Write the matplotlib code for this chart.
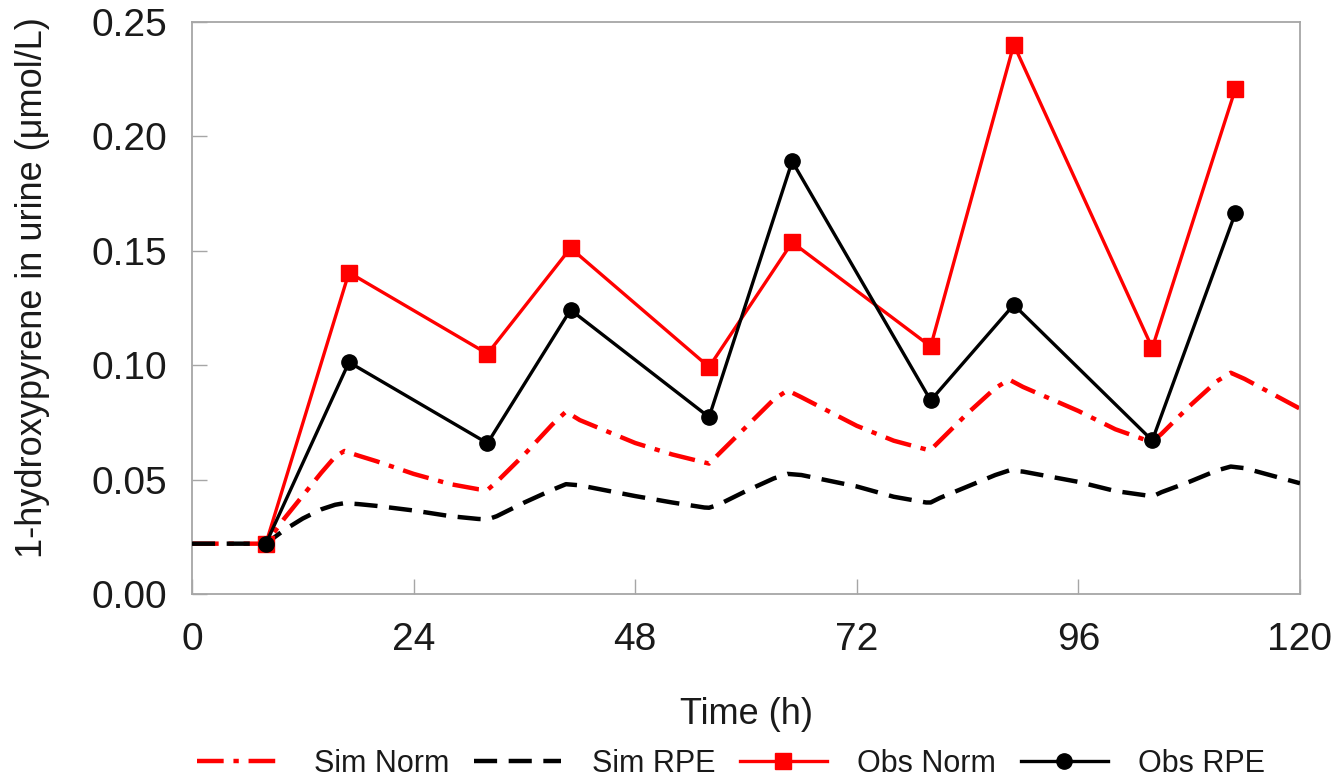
import matplotlib
matplotlib.use("Agg")
import matplotlib.pyplot as plt

plt.rcParams['font.family'] = ['Liberation Sans', 'DejaVu Sans']

# ---- data ----
sim_time = [0, 8, 10, 12, 14, 15.5, 16.5, 18, 20, 24, 28, 31, 32, 33, 36, 39, 40.5, 42,
            48, 52, 55.5, 56, 57, 60, 63, 64.5, 66, 72, 76, 79.5, 80, 81, 84, 87, 88.5,
            90, 96, 100, 103.5, 104, 105, 108, 111, 112.5, 114, 120]
sim_norm = [0.022, 0.022, 0.033, 0.043, 0.053, 0.060, 0.0625, 0.0605, 0.058, 0.0525, 0.048,
            0.0458, 0.0455, 0.049, 0.061, 0.074, 0.0797, 0.076, 0.066, 0.061, 0.0575, 0.057,
            0.061, 0.073, 0.085, 0.089, 0.086, 0.0735, 0.067, 0.0632, 0.063, 0.067, 0.079,
            0.090, 0.0937, 0.0905, 0.080, 0.072, 0.067, 0.0666, 0.070, 0.082, 0.093, 0.0967,
            0.094, 0.081]
sim_rpe = [0.022, 0.022, 0.028, 0.033, 0.037, 0.039, 0.0397, 0.0393, 0.0385, 0.0365, 0.034,
           0.0328, 0.0326, 0.034, 0.040, 0.0455, 0.048, 0.0475, 0.0428, 0.040, 0.0378, 0.0377,
           0.039, 0.045, 0.0505, 0.0525, 0.052, 0.047, 0.0425, 0.040, 0.040, 0.042, 0.047,
           0.052, 0.054, 0.0535, 0.049, 0.045, 0.043, 0.0426, 0.0445, 0.049, 0.054, 0.0557,
           0.055, 0.0484]

obs_time = [8, 17, 32, 41, 56, 65, 80, 89, 104, 113]
obs_norm = [0.022, 0.1405, 0.105, 0.1512, 0.0992, 0.1537, 0.1082, 0.2401, 0.1075, 0.2208]
obs_rpe = [0.022, 0.1013, 0.0659, 0.1242, 0.0773, 0.1891, 0.0846, 0.1264, 0.0671, 0.1665]

x_ticks = [0, 24, 48, 72, 96, 120]
y_ticks = [0.00, 0.05, 0.10, 0.15, 0.20, 0.25]
y_ticklabels = ['0.00', '0.05', '0.10', '0.15', '0.20', '0.25']

labels = ['Sim Norm', 'Sim RPE', 'Obs Norm', 'Obs RPE']

RED = '#ff0000'
BLACK = '#000000'
GRAY = '#a6a6a6'
TXT = '#1a1a1a'

fig = plt.figure(figsize=(13.38, 7.81), dpi=100)
ax = fig.add_axes([192/1338, (781-594)/781, (1300-192)/1338, (594-22)/781])

l1, = ax.plot(sim_time, sim_norm, color=RED, lw=3.2, linestyle=(0, (6, 2.2, 1.2, 2.2)),
              label=labels[0], zorder=2)
l2, = ax.plot(sim_time, sim_rpe, color=BLACK, lw=3.2, linestyle=(0, (5.2, 2.6)),
              label=labels[1], zorder=3)
l3, = ax.plot(obs_time, obs_norm, color=RED, lw=2.4, marker='s', markersize=11,
              label=labels[2], zorder=4)
l4, = ax.plot(obs_time, obs_rpe, color=BLACK, lw=2.4, marker='o', markersize=11,
              label=labels[3], zorder=5)

ax.set_xlim(0, 120)
ax.set_ylim(0, 0.25)
ax.set_xticks(x_ticks)
ax.set_xticklabels([str(t) for t in x_ticks])
ax.set_yticks(y_ticks)
ax.set_yticklabels(y_ticklabels)

for s in ax.spines.values():
    s.set_color(GRAY)
    s.set_linewidth(1.3)

ax.tick_params(axis='both', direction='in', length=11, width=1.0, color=GRAY,
               labelsize=28, labelcolor=TXT)
ax.tick_params(axis='x', pad=20)
ax.tick_params(axis='y', pad=18)
ax.tick_params(top=False, right=False)

ax.set_xlabel('Time (h)', fontsize=26, color=TXT, labelpad=28)
ax.set_ylabel('1-hydroxypyrene in urine (μmol/L)', fontsize=26, color=TXT)
ax.yaxis.set_label_coords(-0.128, 0.535)

fig.legend(handles=[l1, l2, l3, l4], labels=labels, loc='center',
           bbox_to_anchor=(731/1338, 17/781), ncol=4, frameon=False,
           fontsize=22, handlelength=2.85, handletextpad=1.0, columnspacing=0.8,
           labelcolor=TXT)

fig.savefig('out.png', dpi=100)
